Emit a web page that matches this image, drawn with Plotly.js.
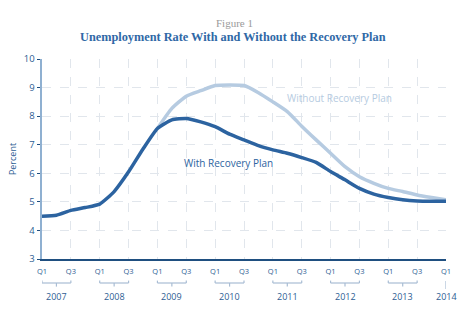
<!DOCTYPE html>
<html>
<head>
<meta charset="utf-8">
<script src="https://cdn.plot.ly/plotly-3.0.1.min.js"></script>
<style>html,body{margin:0;padding:0;background:#fff}#chart{width:463px;height:332px}</style>
</head>
<body>
<div id="chart"></div>
<script>
// Quarters from 2007 Q1 to 2014 Q1
const quarters = [
  '2007 Q1','2007 Q2','2007 Q3','2007 Q4',
  '2008 Q1','2008 Q2','2008 Q3','2008 Q4',
  '2009 Q1','2009 Q2','2009 Q3','2009 Q4',
  '2010 Q1','2010 Q2','2010 Q3','2010 Q4',
  '2011 Q1','2011 Q2','2011 Q3','2011 Q4',
  '2012 Q1','2012 Q2','2012 Q3','2012 Q4',
  '2013 Q1','2013 Q2','2013 Q3','2013 Q4',
  '2014 Q1'
];
// Unemployment rate with the recovery plan (percent)
const withPlan = [
  4.5, 4.53, 4.7, 4.8,
  4.92, 5.36, 6.05, 6.85,
  7.57, 7.87, 7.92, 7.8,
  7.63, 7.37, 7.17, 6.97,
  6.82, 6.7, 6.55, 6.38,
  6.06, 5.77, 5.47, 5.27,
  5.15, 5.07, 5.03, 5.02,
  5.02
];
// Unemployment rate without the recovery plan (percent), from 2009 Q1
const withoutStart = '2009 Q1';
const withoutPlan = [
  7.57, 8.27, 8.7, 8.89,
  9.07, 9.09, 9.07, 8.82,
  8.5, 8.16, 7.65, 7.17,
  6.7, 6.23, 5.88, 5.65,
  5.47, 5.36, 5.24, 5.15,
  5.07
];
const tickLabels = ['Q1','Q3'];
const years = ['2007','2008','2009','2010','2011','2012','2013','2014'];

const xIdx = quarters.map((q, i) => i);
const s0 = quarters.indexOf(withoutStart);
const xWithout = withoutPlan.map((v, i) => s0 + i);

const tickvals = xIdx.filter(i => i % 2 === 0);
const ticktext = tickvals.map(i => tickLabels[(i % 4) / 2]);

const darkBlue = '#2c63a0';
const lightBlue = '#b6cbe1';
const textBlue = '#2d5d93';
const bracketColor = '#a9bdd4';

const traces = [
  {x: xWithout, y: withoutPlan, type: 'scatter', mode: 'lines',
   line: {color: lightBlue, width: 3.5, shape: 'spline', smoothing: 0.5}, hoverinfo: 'skip'},
  {x: xIdx, y: withPlan, type: 'scatter', mode: 'lines',
   line: {color: darkBlue, width: 3.5, shape: 'spline', smoothing: 0.5}, hoverinfo: 'skip'}
];

const shapes = [];
const annotations = [];
years.forEach((yr, k) => {
  const q1 = quarters.indexOf(yr + ' Q1');
  const q3 = quarters.indexOf(yr + ' Q3');
  if (q3 >= 0) {
    const line = {type: 'line', xref: 'x', yref: 'paper', line: {color: bracketColor, width: 1.2}};
    shapes.push(Object.assign({}, line, {x0: q1, x1: q3, y0: -0.12, y1: -0.12}));
    shapes.push(Object.assign({}, line, {x0: q1, x1: q1, y0: -0.12, y1: -0.108}));
    shapes.push(Object.assign({}, line, {x0: q3, x1: q3, y0: -0.12, y1: -0.108}));
    shapes.push(Object.assign({}, line, {x0: (q1 + q3) / 2, x1: (q1 + q3) / 2, y0: -0.12, y1: -0.138}));
    annotations.push({x: (q1 + q3) / 2, y: -0.185, xref: 'x', yref: 'paper', text: yr, showarrow: false,
      font: {family: 'Open Sans', size: 9, color: textBlue}, xanchor: 'center', yanchor: 'middle'});
  } else {
    shapes.push({type: 'line', xref: 'x', yref: 'paper', x0: q1, x1: q1, y0: -0.11, y1: -0.15,
      line: {color: bracketColor, width: 1.2}});
    annotations.push({x: q1, y: -0.185, xref: 'x', yref: 'paper', text: yr, showarrow: false,
      font: {family: 'Open Sans', size: 9, color: textBlue}, xanchor: 'center', yanchor: 'middle'});
  }
});

annotations.push({x: 0.477, y: 1.18, xref: 'paper', yref: 'paper', text: 'Figure 1', showarrow: false,
  font: {family: 'Liberation Serif', size: 11, color: '#9a9a9a'}, xanchor: 'center', yanchor: 'middle'});
annotations.push({x: 0.473, y: 1.11, xref: 'paper', yref: 'paper', text: '<b>Unemployment Rate With and Without the Recovery Plan</b>', showarrow: false,
  font: {family: 'Liberation Serif', size: 12.3, color: '#2f68a6'}, xanchor: 'center', yanchor: 'middle'});
annotations.push({x: 20.6, y: 8.64, xref: 'x', yref: 'y', text: 'Without Recovery Plan', showarrow: false,
  font: {family: 'Open Sans', size: 10, color: lightBlue}, xanchor: 'center', yanchor: 'middle'});
annotations.push({x: 12.9, y: 6.36, xref: 'x', yref: 'y', text: 'With Recovery Plan', showarrow: false,
  font: {family: 'Open Sans', size: 10, color: darkBlue}, xanchor: 'center', yanchor: 'middle'});

const layout = {
  width: 463, height: 332,
  margin: {l: 42, r: 17, t: 59, b: 73},
  paper_bgcolor: '#fff', plot_bgcolor: '#fff',
  showlegend: false,
  xaxis: {
    range: [0, 28], tickvals: tickvals, ticktext: ticktext,
    showgrid: true, gridcolor: '#e1e6ec', griddash: 'dash', gridwidth: 1,
    showline: true, linecolor: '#1f4f80', linewidth: 1.5,
    ticks: '', zeroline: false, ticklabelstandoff: 4,
    tickfont: {family: 'Open Sans', size: 7.5, color: textBlue}
  },
  yaxis: {
    range: [3, 10], dtick: 1,
    showgrid: true, gridcolor: '#e1e6ec', griddash: 'dash', gridwidth: 1,
    showline: true, linecolor: '#8fb0d1', linewidth: 2.5,
    ticks: 'outside', ticklen: 3, tickcolor: '#1f4f80', tickwidth: 1,
    zeroline: false,
    tickfont: {family: 'Open Sans', size: 9.5, color: textBlue},
    title: {text: 'Percent', font: {family: 'Open Sans', size: 9, color: textBlue}, standoff: 6}
  },
  shapes: shapes,
  annotations: annotations
};

Plotly.newPlot('chart', traces, layout, {staticPlot: true, displayModeBar: false});
</script>
</body>
</html>
